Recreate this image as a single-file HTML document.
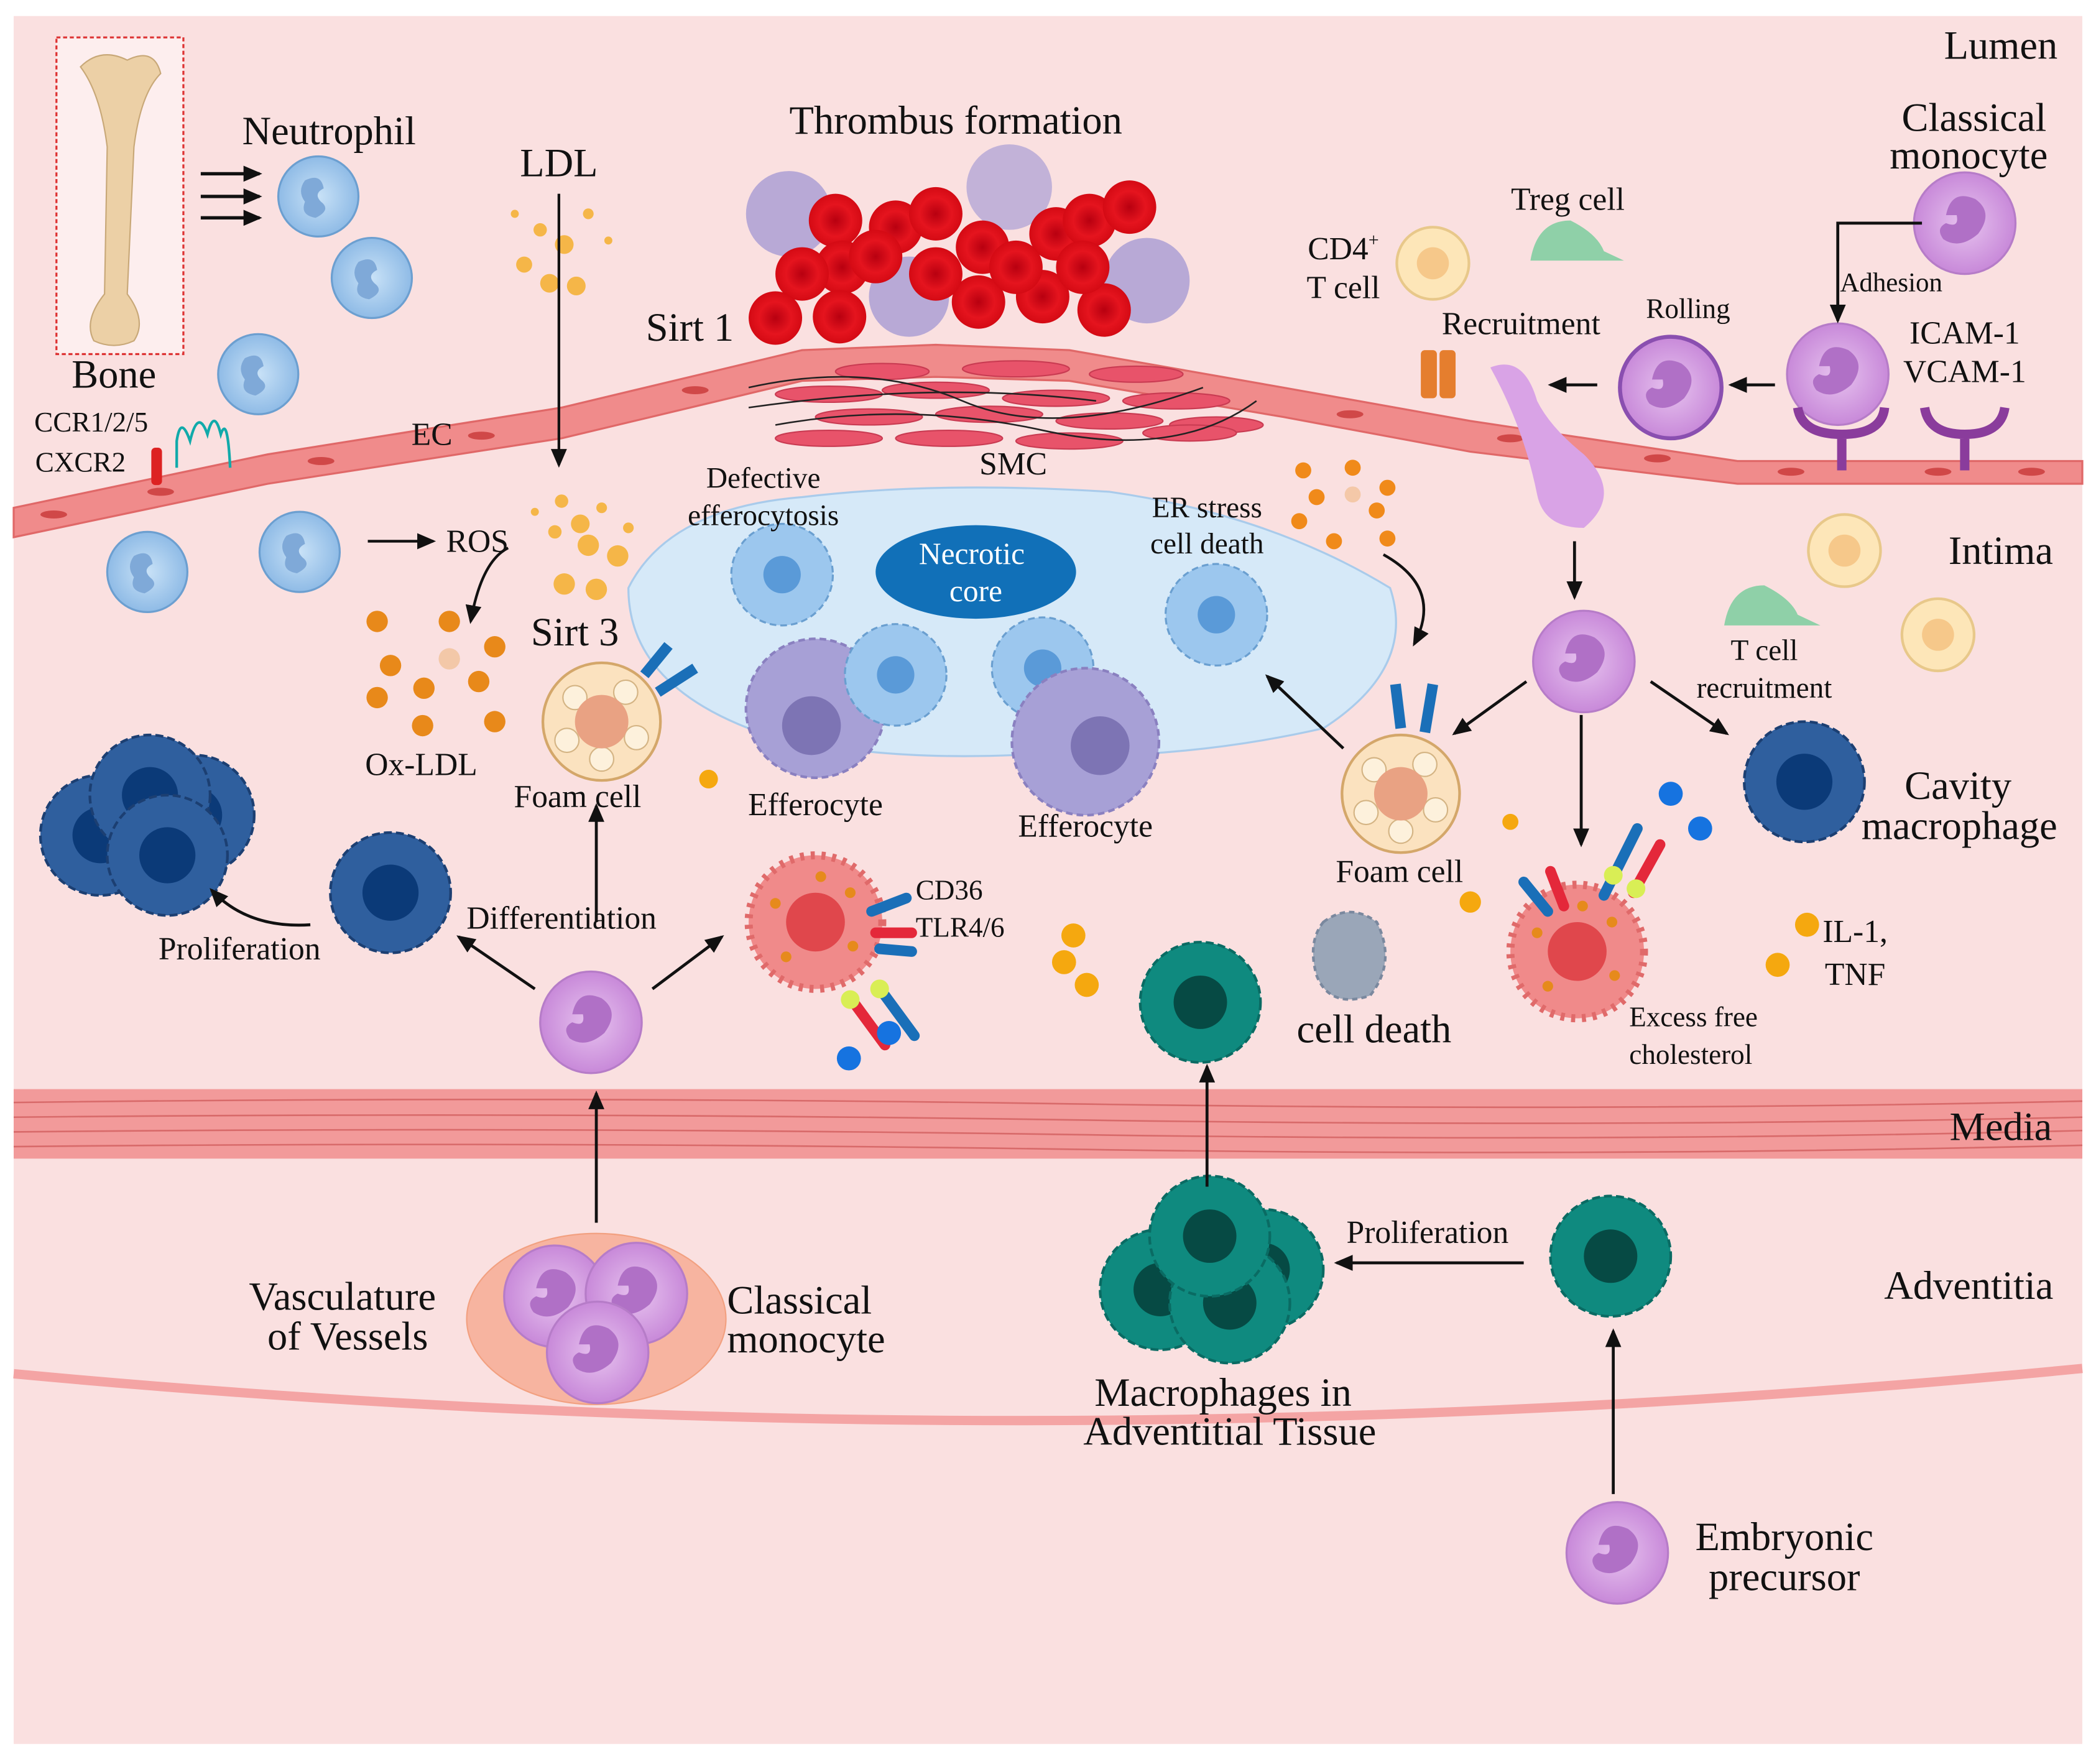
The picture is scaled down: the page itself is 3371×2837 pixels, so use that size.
<!DOCTYPE html>
<html><head><meta charset="utf-8">
<style>
html,body{margin:0;padding:0;background:#fff;}
svg{display:block;}
text{font-family:"Liberation Serif",serif;fill:#111;}
</style></head>
<body>
<svg width="3371" height="2837" viewBox="0 0 1568 1320" xmlns="http://www.w3.org/2000/svg">
<defs>
<marker id="ar" markerWidth="14" markerHeight="12" refX="12" refY="6" orient="auto" markerUnits="userSpaceOnUse"><path d="M0,0 L14,6 L0,12 z" fill="#111"/></marker>
<radialGradient id="neu" cx="50%" cy="50%" r="50%"><stop offset="0" stop-color="#c9e2f7"/><stop offset="1" stop-color="#8fbbe6"/></radialGradient>
<radialGradient id="mono" cx="50%" cy="50%" r="50%"><stop offset="0" stop-color="#e7c3ef"/><stop offset="1" stop-color="#c889d9"/></radialGradient>
<radialGradient id="rbc" cx="50%" cy="50%" r="50%"><stop offset="0" stop-color="#b80010"/><stop offset="0.6" stop-color="#e5141e"/><stop offset="1" stop-color="#d40a14"/></radialGradient>
<g id="neuC"><circle r="30" fill="url(#neu)" stroke="#6c9fd0" stroke-width="1.5"/><path d="M-10,-12 q12,-6 14,6 q-8,4 -2,10 q8,6 -4,12 q-12,-2 -8,-12 q-6,-8 0,-16z" fill="#7fa9d8"/></g>
<g id="monoC"><circle r="38" fill="url(#mono)" stroke="#b67cc8" stroke-width="1.5"/><path d="M-14,-6 q4,-20 22,-12 q14,10 2,26 q-14,12 -26,4 q-6,-8 2,-12 q10,4 8,-6z" fill="#b070c6"/></g>
<g id="blueM"><circle r="45" fill="#2f5f9e" stroke="#1c3f72" stroke-width="2" stroke-dasharray="6 3"/><circle r="21" fill="#0b3a78"/></g>
<g id="tealM"><circle r="45" fill="#0f8a7f" stroke="#0a6b63" stroke-width="2" stroke-dasharray="6 3"/><circle r="20" fill="#064a44"/></g>
<g id="lbC"><circle r="38" fill="#9cc7ee" stroke="#6a9fd0" stroke-width="1.5" stroke-dasharray="5 3"/><circle r="14" fill="#5a9ad8"/></g>
<g id="foam"><circle r="44" fill="#fbe2bf" stroke="#d4a76a" stroke-width="2"/><circle cx="-20" cy="-18" r="9" fill="#fdf1dc" stroke="#d4b484"/><circle cx="18" cy="-22" r="9" fill="#fdf1dc" stroke="#d4b484"/><circle cx="26" cy="12" r="9" fill="#fdf1dc" stroke="#d4b484"/><circle cx="-26" cy="14" r="9" fill="#fdf1dc" stroke="#d4b484"/><circle cx="0" cy="28" r="9" fill="#fdf1dc" stroke="#d4b484"/><circle r="20" fill="#e9a283"/></g>
<g id="spiky"><circle r="50" fill="#f08a8a" stroke="#e06a6a" stroke-width="6" stroke-dasharray="3 5"/><circle r="22" fill="#e0474c"/><circle cx="-30" cy="-14" r="4" fill="#e68a1c"/><circle cx="26" cy="-22" r="4" fill="#e68a1c"/><circle cx="-22" cy="26" r="4" fill="#e68a1c"/><circle cx="28" cy="18" r="4" fill="#e68a1c"/><circle cx="4" cy="-34" r="4" fill="#e68a1c"/></g>
<g id="rb"><circle r="20" fill="url(#rbc)"/></g>
</defs>

<rect width="1568" height="1320" fill="#fff"/>
<rect x="10" y="12" width="1548" height="1293" fill="#fae0e0"/>

<path d="M10,380 L200,340 L420,305 L600,262 L700,258 L800,262 L960,290 L1100,315 L1300,345 L1558,345 L1558,362 L1300,362 L1100,338 L960,312 L800,285 L700,282 L600,285 L420,328 L200,362 L10,402 Z" fill="#f08b8b" stroke="#e06868" stroke-width="1.5"/>
<g fill="#d04848">
<ellipse cx="40" cy="385" rx="10" ry="3"/><ellipse cx="120" cy="368" rx="10" ry="3"/><ellipse cx="240" cy="345" rx="10" ry="3"/><ellipse cx="360" cy="326" rx="10" ry="3"/><ellipse cx="520" cy="292" rx="10" ry="3"/><ellipse cx="1010" cy="310" rx="10" ry="3"/><ellipse cx="1130" cy="328" rx="10" ry="3"/><ellipse cx="1240" cy="343" rx="10" ry="3"/><ellipse cx="1340" cy="353" rx="10" ry="3"/><ellipse cx="1450" cy="353" rx="10" ry="3"/><ellipse cx="1520" cy="353" rx="10" ry="3"/></g>
<g fill="#e8536a" stroke="#c93b52" stroke-width="1">
<ellipse cx="620" cy="295" rx="40" ry="6"/><ellipse cx="700" cy="292" rx="40" ry="6"/><ellipse cx="790" cy="298" rx="40" ry="6"/><ellipse cx="880" cy="300" rx="40" ry="6"/>
<ellipse cx="650" cy="312" rx="40" ry="6"/><ellipse cx="740" cy="310" rx="40" ry="6"/><ellipse cx="830" cy="315" rx="40" ry="6"/><ellipse cx="910" cy="318" rx="35" ry="6"/>
<ellipse cx="620" cy="328" rx="40" ry="6"/><ellipse cx="710" cy="328" rx="40" ry="6"/><ellipse cx="800" cy="330" rx="40" ry="6"/><ellipse cx="890" cy="324" rx="35" ry="6"/>
<ellipse cx="760" cy="276" rx="40" ry="6"/><ellipse cx="660" cy="278" rx="35" ry="6"/><ellipse cx="850" cy="280" rx="35" ry="6"/></g>
<path d="M560,290 Q650,270 720,300 T900,290 M580,318 Q680,300 780,322 T940,300 M560,305 Q700,285 820,300" fill="none" stroke="#222" stroke-width="1.2"/>

<path d="M470,440 Q500,380 600,372 Q700,360 830,368 Q950,385 1040,440 Q1060,500 990,545 Q880,570 760,565 Q640,570 560,545 Q470,510 470,440Z" fill="#d6e9f8" stroke="#a9cbeb" stroke-width="1.5"/>
<ellipse cx="730" cy="428" rx="75" ry="35" fill="#1170b8"/>
<text x="727" y="422" font-size="23" text-anchor="middle" style="fill:#fff">Necrotic</text>
<text x="730" y="450" font-size="23" text-anchor="middle" style="fill:#fff">core</text>

<rect x="10" y="815" width="1548" height="52" fill="#f29a9a"/>
<g stroke="#d86a6a" stroke-width="1.2" fill="none">
<path d="M10,825 Q400,820 800,826 T1558,824"/><path d="M10,836 Q400,832 800,838 T1558,836"/><path d="M10,847 Q400,843 800,849 T1558,846"/><path d="M10,858 Q400,854 800,860 T1558,857"/></g>
<path d="M10,1028 Q780,1100 1558,1024" fill="none" stroke="#f4a4a4" stroke-width="7"/>

<rect x="42" y="28" width="95" height="237" fill="#fdeeee" stroke="#d33" stroke-width="1.5" stroke-dasharray="3 2"/>
<path d="M60,50 Q75,35 95,45 Q115,35 120,55 Q105,70 100,110 L95,220 Q110,240 100,255 Q85,262 70,255 Q62,240 78,220 L80,110 Q75,70 60,50Z" fill="#ecd0a6" stroke="#c8a878"/>

<use href="#neuC" x="238" y="147"/><use href="#neuC" x="278" y="208"/><use href="#neuC" x="193" y="280"/><use href="#neuC" x="224" y="413"/><use href="#neuC" x="110" y="428"/>
<g stroke="#111" stroke-width="2.5" marker-end="url(#ar)"><line x1="150" y1="130" x2="194" y2="130"/><line x1="150" y1="147" x2="194" y2="147"/><line x1="150" y1="163" x2="194" y2="163"/></g>
<rect x="113" y="335" width="8" height="28" rx="3" fill="#d22"/>
<path d="M132,350 L132,330 Q135,310 142,330 Q148,305 155,325 Q160,305 165,325 Q170,310 172,350" fill="none" stroke="#1aa" stroke-width="2"/>

<g fill="#f5b648"><circle cx="404" cy="172" r="5"/><circle cx="422" cy="183" r="7"/><circle cx="392" cy="198" r="6"/><circle cx="431" cy="214" r="7"/><circle cx="411" cy="212" r="7"/><circle cx="440" cy="160" r="4"/><circle cx="385" cy="160" r="3"/><circle cx="455" cy="180" r="3"/>
<circle cx="420" cy="375" r="5"/><circle cx="434" cy="392" r="7"/><circle cx="415" cy="398" r="5"/><circle cx="440" cy="408" r="8"/><circle cx="462" cy="416" r="8"/><circle cx="422" cy="437" r="8"/><circle cx="446" cy="441" r="8"/><circle cx="450" cy="380" r="4"/><circle cx="400" cy="383" r="3"/><circle cx="470" cy="395" r="4"/></g>
<line x1="418" y1="145" x2="418" y2="348" stroke="#111" stroke-width="2" marker-end="url(#ar)"/>
<g fill="#e8891a"><circle cx="282" cy="465" r="8"/><circle cx="336" cy="465" r="8"/><circle cx="292" cy="498" r="8"/><circle cx="370" cy="484" r="8"/><circle cx="317" cy="515" r="8"/><circle cx="358" cy="510" r="8"/><circle cx="282" cy="522" r="8"/><circle cx="316" cy="543" r="8"/><circle cx="370" cy="540" r="8"/></g>
<circle cx="336" cy="493" r="8" fill="#f3c8a8"/>
<path d="M380,410 Q360,420 352,465" fill="none" stroke="#111" stroke-width="2" marker-end="url(#ar)"/>
<line x1="275" y1="405" x2="324" y2="405" stroke="#111" stroke-width="2" marker-end="url(#ar)"/>

<circle cx="590" cy="160" r="32" fill="#b8a9d6"/><circle cx="755" cy="140" r="32" fill="#c2b2d8"/><circle cx="858" cy="210" r="32" fill="#b8a9d6"/><circle cx="680" cy="222" r="30" fill="#b8a9d6"/>
<use href="#rb" x="625" y="165"/><use href="#rb" x="670" y="170"/><use href="#rb" x="700" y="160"/><use href="#rb" x="735" y="185"/><use href="#rb" x="790" y="175"/><use href="#rb" x="815" y="165"/><use href="#rb" x="630" y="200"/><use href="#rb" x="600" y="205"/><use href="#rb" x="655" y="192"/><use href="#rb" x="580" y="238"/><use href="#rb" x="628" y="237"/><use href="#rb" x="732" y="226"/><use href="#rb" x="780" y="222"/><use href="#rb" x="826" y="232"/><use href="#rb" x="760" y="200"/><use href="#rb" x="810" y="200"/><use href="#rb" x="845" y="155"/><use href="#rb" x="700" y="205"/>

<use href="#lbC" x="585" y="430"/><use href="#lbC" x="780" y="500"/><use href="#lbC" x="910" y="460"/>
<g fill="#a7a0d6" stroke="#8a80c0" stroke-width="2" stroke-dasharray="5 3"><circle cx="610" cy="530" r="52"/><circle cx="812" cy="555" r="55"/></g>
<circle cx="607" cy="543" r="22" fill="#7d74b4"/><circle cx="823" cy="558" r="22" fill="#7d74b4"/>
<use href="#lbC" x="670" y="505"/>
<use href="#foam" x="450" y="540"/><use href="#foam" x="1048" y="594"/>
<g stroke-width="8"><line x1="482" y1="505" x2="500" y2="483" stroke="#1a6fb8"/><line x1="492" y1="518" x2="520" y2="500" stroke="#1a6fb8"/><line x1="1048" y1="545" x2="1044" y2="512" stroke="#1a6fb8"/><line x1="1066" y1="548" x2="1072" y2="512" stroke="#1a6fb8"/></g>
<use href="#spiky" x="610" y="690"/><use href="#spiky" x="1180" y="712"/>
<g stroke-width="8" stroke-linecap="round"><line x1="652" y1="682" x2="678" y2="672" stroke="#1a6fb8"/><line x1="655" y1="698" x2="682" y2="698" stroke="#e4283a"/><line x1="658" y1="710" x2="682" y2="712" stroke="#1a6fb8"/><line x1="640" y1="752" x2="662" y2="782" stroke="#e4283a"/><line x1="662" y1="745" x2="684" y2="775" stroke="#1a6fb8"/>
<line x1="1140" y1="660" x2="1158" y2="682" stroke="#1a6fb8"/><line x1="1160" y1="652" x2="1170" y2="678" stroke="#e4283a"/><line x1="1200" y1="670" x2="1225" y2="620" stroke="#1a6fb8"/><line x1="1222" y1="668" x2="1242" y2="632" stroke="#e4283a"/></g>
<g fill="#d9ee55"><circle cx="636" cy="748" r="7"/><circle cx="658" cy="740" r="7"/><circle cx="1207" cy="655" r="7"/><circle cx="1224" cy="665" r="7"/></g>
<g fill="#1673e0"><circle cx="635" cy="792" r="9"/><circle cx="665" cy="773" r="9"/><circle cx="1250" cy="594" r="9"/><circle cx="1272" cy="620" r="9"/></g>
<g fill="#f5a80f"><circle cx="803" cy="700" r="9"/><circle cx="796" cy="720" r="9"/><circle cx="813" cy="737" r="9"/><circle cx="1352" cy="692" r="9"/><circle cx="1330" cy="722" r="9"/><circle cx="530" cy="583" r="7"/><circle cx="1130" cy="615" r="6"/><circle cx="1100" cy="675" r="8"/></g>
<g fill="#f08a1a"><circle cx="975" cy="352" r="6"/><circle cx="1012" cy="350" r="6"/><circle cx="985" cy="372" r="6"/><circle cx="1038" cy="365" r="6"/><circle cx="972" cy="390" r="6"/><circle cx="1030" cy="382" r="6"/><circle cx="998" cy="405" r="6"/><circle cx="1038" cy="403" r="6"/></g>
<circle cx="1012" cy="370" r="6" fill="#f4c8a8"/>
<path d="M1035,415 Q1080,440 1058,482" fill="none" stroke="#111" stroke-width="2" marker-end="url(#ar)"/>

<use href="#blueM" x="75" y="625"/><use href="#blueM" x="145" y="610"/><use href="#blueM" x="112" y="595"/><use href="#blueM" x="125" y="640"/>
<use href="#blueM" x="292" y="668"/><use href="#blueM" x="1350" y="585"/>
<use href="#tealM" x="898" y="750"/><use href="#tealM" x="1205" y="940"/>
<use href="#tealM" x="868" y="965"/><use href="#tealM" x="945" y="950"/><use href="#tealM" x="920" y="975"/><use href="#tealM" x="905" y="925"/>
<path d="M990,690 Q1010,675 1030,690 Q1045,720 1025,745 Q995,755 985,730 Q978,705 990,690Z" fill="#9aa6b8" stroke="#7a889e" stroke-width="2" stroke-dasharray="4 3"/>

<use href="#monoC" x="442" y="765"/>
<ellipse cx="446" cy="987" rx="97" ry="64" fill="#f7b4a0" stroke="#f2a080"/>
<use href="#monoC" x="415" y="970"/><use href="#monoC" x="476" y="968"/><use href="#monoC" x="447" y="1012"/>
<use href="#monoC" x="1470" y="167"/><use href="#monoC" x="1375" y="280"/><use href="#monoC" x="1250" y="290"/><use href="#monoC" x="1185" y="495"/><use href="#monoC" x="1210" y="1162"/>
<circle cx="1250" cy="290" r="38" fill="none" stroke="#8a4fb0" stroke-width="3"/>
<path d="M1115,275 Q1140,265 1150,300 Q1160,320 1185,340 Q1215,370 1185,395 Q1155,395 1150,370 Q1140,320 1115,275Z" fill="#d9a3e6"/>
<g fill="none" stroke="#8a3c9c" stroke-width="7"><path d="M1345,305 Q1348,325 1378,325 Q1408,325 1410,305 M1378,325 L1378,352"/><path d="M1440,305 Q1443,325 1470,325 Q1497,325 1500,305 M1470,325 L1470,352"/></g>
<g fill="#e57e2e"><rect x="1063" y="262" width="12" height="36" rx="3"/><rect x="1077" y="262" width="12" height="36" rx="3"/></g>
<g fill="#fde6b8" stroke="#e8c88a" stroke-width="2"><circle cx="1072" cy="197" r="27"/><circle cx="1380" cy="412" r="27"/><circle cx="1450" cy="475" r="27"/></g>
<g fill="#f6c88a"><circle cx="1072" cy="197" r="12"/><circle cx="1380" cy="412" r="12"/><circle cx="1450" cy="475" r="12"/></g>
<g fill="#8fd0a8"><path d="M1145,195 Q1150,165 1175,165 Q1195,175 1200,188 L1215,195 Z"/><path d="M1290,468 Q1295,438 1320,438 Q1340,448 1345,460 L1362,468 Z"/></g>

<g stroke="#111" stroke-width="2.2" fill="none" marker-end="url(#ar)">
<polyline points="1438,167 1375,167 1375,240"/>
<line x1="1328" y1="288" x2="1295" y2="288"/><line x1="1195" y1="288" x2="1160" y2="288"/>
<line x1="1178" y1="405" x2="1178" y2="447"/>
<line x1="1142" y1="510" x2="1088" y2="549"/><line x1="1235" y1="510" x2="1292" y2="549"/><line x1="1183" y1="535" x2="1183" y2="632"/>
<line x1="1005" y1="560" x2="948" y2="506"/>
<line x1="446" y1="690" x2="446" y2="603"/>
<line x1="400" y1="740" x2="343" y2="701"/><line x1="488" y1="740" x2="540" y2="701"/>
<path d="M232,692 Q185,695 158,666"/>
<line x1="446" y1="915" x2="446" y2="818"/>
<line x1="903" y1="888" x2="903" y2="798"/>
<line x1="1140" y1="945" x2="1000" y2="945"/>
<line x1="1207" y1="1118" x2="1207" y2="996"/>
</g>

<g font-size="30">
<text x="1497" y="44" text-anchor="middle">Lumen</text>
<text x="1497" y="422" text-anchor="middle">Intima</text>
<text x="1497" y="853" text-anchor="middle">Media</text>
<text x="1473" y="972" text-anchor="middle">Adventitia</text>
<text x="246" y="108" text-anchor="middle">Neutrophil</text>
<text x="85" y="290" text-anchor="middle">Bone</text>
<text x="418" y="132" text-anchor="middle">LDL</text>
<text x="715" y="100" text-anchor="middle">Thrombus formation</text>
<text x="516" y="255" text-anchor="middle">Sirt 1</text>
<text x="430" y="483" text-anchor="middle">Sirt 3</text>
<text x="1477" y="98" text-anchor="middle">Classical</text>
<text x="1473" y="126" text-anchor="middle">monocyte</text>
<text x="1465" y="598" text-anchor="middle">Cavity</text>
<text x="1466" y="628" text-anchor="middle">macrophage</text>
<text x="1028" y="780" text-anchor="middle">cell death</text>
<text x="256" y="980" text-anchor="middle">Vasculature</text>
<text x="260" y="1010" text-anchor="middle">of Vessels</text>
<text x="598" y="983" text-anchor="middle">Classical</text>
<text x="603" y="1012" text-anchor="middle">monocyte</text>
<text x="915" y="1052" text-anchor="middle">Macrophages in</text>
<text x="920" y="1081" text-anchor="middle">Adventitial Tissue</text>
<text x="1335" y="1160" text-anchor="middle">Embryonic</text>
<text x="1335" y="1190" text-anchor="middle">precursor</text>
</g>
<g font-size="24">
<text x="1470" y="257" text-anchor="middle">ICAM-1</text><text x="1470" y="286" text-anchor="middle">VCAM-1</text>
<text x="1005" y="194" text-anchor="middle">CD4<tspan font-size="14" dy="-10">+</tspan></text><text x="1005" y="223" text-anchor="middle">T cell</text>
<text x="1173" y="157" text-anchor="middle">Treg cell</text>
<text x="1138" y="250" text-anchor="middle">Recruitment</text>
<text x="1263" y="238" text-anchor="middle" font-size="21">Rolling</text>
<text x="1415" y="218" text-anchor="middle" font-size="20">Adhesion</text>
<text x="357" y="413" text-anchor="middle">ROS</text>
<text x="315" y="580" text-anchor="middle">Ox-LDL</text>
<text x="432" y="604" text-anchor="middle">Foam cell</text>
<text x="1047" y="660" text-anchor="middle">Foam cell</text>
<text x="610" y="610" text-anchor="middle">Efferocyte</text>
<text x="812" y="626" text-anchor="middle">Efferocyte</text>
<text x="420" y="695" text-anchor="middle">Differentiation</text>
<text x="179" y="718" text-anchor="middle">Proliferation</text>
<text x="1068" y="930" text-anchor="middle">Proliferation</text>
<text x="1388" y="705" text-anchor="middle">IL-1,</text><text x="1388" y="737" text-anchor="middle">TNF</text>
<text x="323" y="333" text-anchor="middle">EC</text>
<text x="758" y="355" text-anchor="middle">SMC</text>
<text x="571" y="365" text-anchor="middle" font-size="22">Defective</text><text x="571" y="393" text-anchor="middle" font-size="22">efferocytosis</text>
<text x="903" y="387" text-anchor="middle" font-size="22">ER stress</text><text x="903" y="414" text-anchor="middle" font-size="22">cell death</text>
<text x="1320" y="494" text-anchor="middle" font-size="22">T cell</text><text x="1320" y="522" text-anchor="middle" font-size="22">recruitment</text>
<text x="1267" y="768" text-anchor="middle" font-size="21">Excess free</text><text x="1265" y="796" text-anchor="middle" font-size="21">cholesterol</text>
<text x="685" y="673" font-size="21">CD36</text><text x="685" y="701" font-size="21">TLR4/6</text>
<text x="68" y="323" text-anchor="middle" font-size="21">CCR1/2/5</text><text x="60" y="353" text-anchor="middle" font-size="21">CXCR2</text>
</g>
</svg>
</body></html>
